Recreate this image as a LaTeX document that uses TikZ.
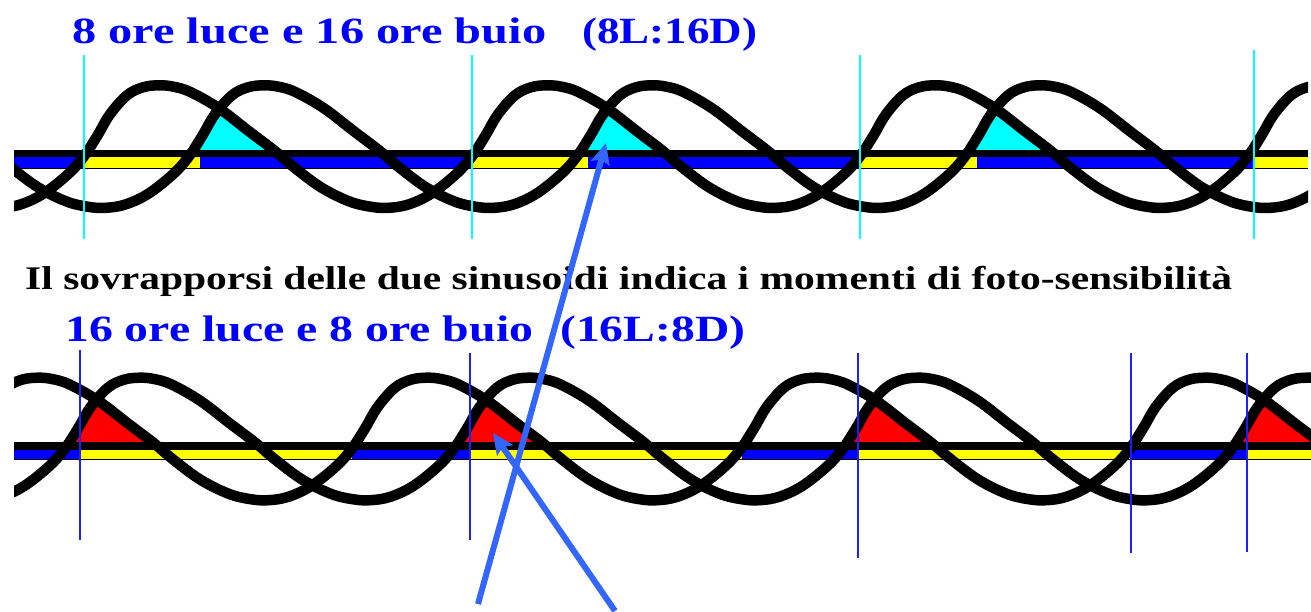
\documentclass[tikz,border=0pt]{standalone}
\usepackage{fontspec}
\setmainfont{Liberation Serif}
\usepackage{graphicx}
\usetikzlibrary{arrows.meta}
\definecolor{arrowblue}{RGB}{51,102,255}
\definecolor{pureblue}{RGB}{0,0,255}
\definecolor{lineblue}{RGB}{30,30,255}
\definecolor{pureyellow}{RGB}{255,255,0}
\definecolor{purecyan}{RGB}{0,255,255}
\definecolor{purered}{RGB}{255,0,0}

\def\wavepts{0/61,15/59.5,32/54,60/38,90/15,115/-4,135/-21,162/-41,190/-55,212/-60.5,230/-61.5,250/-58,273/-47,298/-27,313/-10,326/10,339/32,356/51,372/59}

\newcommand\mkwave[4]{%
  \gdef#1{}%
  \foreach \k in {-1,0,1,2,3,4}{%
    \foreach \dx/\dy in \wavepts{%
      \pgfmathsetmacro\px{#2+\k*#3+(\dx/388)*#3}%
      \pgfmathsetmacro\py{#4-\dy}%
      \xdef#1{#1 (\px,\py)}%
    }%
  }%
}
\newcommand\drawwave[2]{\edef\tmpw{\noexpand\draw[#1] plot[smooth,tension=0.6] coordinates {#2};}\tmpw}
\newcommand\lensfill[5]{%
  \begin{scope}
    \clip (14,#3) rectangle (1311,#4);
    \edef\tmpw{\noexpand\clip plot[smooth,tension=0.6] coordinates {#1} -- (2400,#4) -- (-600,#4) -- cycle;}\tmpw
    \edef\tmpw{\noexpand\fill[#5] plot[smooth,tension=0.6] coordinates {#2} -- (2400,#4) -- (-600,#4) -- cycle;}\tmpw
  \end{scope}}

\mkwave\waveTa{159}{388}{146.3}
\mkwave\waveTb{264}{388}{146.3}
\mkwave\waveBa{38}{389}{438.7}
\mkwave\waveBb{140}{389}{438.7}

\tikzset{
  wavestroke/.style={line width=10.5pt, black},
  cyanline/.style={line width=2pt, purecyan},
  blueline/.style={line width=2pt, lineblue},
  barline/.style={black},
  titletext/.style={font=\fontsize{37}{40}\selectfont\bfseries, text=pureblue, inner sep=0pt},
  bodytext/.style={font=\fontsize{33}{36}\selectfont\bfseries, text=black, inner sep=0pt},
  pointer/.style={arrowblue, line width=6pt, -{Stealth[length=21pt,width=19pt,inset=4pt]}}
}

\begin{document}
\begin{tikzpicture}[x=1pt,y=-1pt]
\useasboundingbox (0,0) rectangle (1311,612);
\fill[white] (0,0) rectangle (1311,612);

% ---------- top panel ----------
\foreach \a/\b/\c in {14/84/pureblue,84/200/pureyellow,200/472/pureblue,472/588/pureyellow,588/860/pureblue,860/977/pureyellow,977/1254/pureblue,1254/1308/pureyellow}
  \fill[\c] (\a,157.3) rectangle (\b,167.7);
\lensfill{\waveTa}{\waveTb}{60}{153.6}{purecyan}
\fill[barline] (14,150) rectangle (1308,157.3);
\fill[barline] (14,167.7) rectangle (1308,168.7);
\begin{scope}
  \clip (14,40) rectangle (1308,250);
  \drawwave{wavestroke}{\waveTa}
  \drawwave{wavestroke}{\waveTb}
\end{scope}
\foreach \x in {84,472,860}
  \draw[cyanline] (\x,55) -- (\x,239);
\draw[cyanline] (1254,50) -- (1254,239);

% ---------- bottom panel ----------
\foreach \a/\b/\c in {14/80/pureblue,80/352/pureyellow,352/470/pureblue,470/742/pureyellow,742/858/pureblue,858/1130/pureyellow,1130/1247/pureblue,1247/1311/pureyellow}
  \fill[\c] (\a,450) rectangle (\b,459.3);
\lensfill{\waveBa}{\waveBb}{350}{445.8}{purered}
\fill[barline] (14,441.7) rectangle (1311,450);
\fill[barline] (14,459.3) rectangle (1311,460.3);
\begin{scope}
  \clip (14,340) rectangle (1311,540);
  \drawwave{wavestroke}{\waveBa}
  \drawwave{wavestroke}{\waveBb}
\end{scope}
\draw[blueline] (80,350) -- (80,540);
\draw[blueline] (470,353) -- (470,540);
\draw[blueline] (858,353) -- (858,558);
\draw[blueline] (1131,353) -- (1131,553);
\draw[blueline] (1247,353) -- (1247,552);

% ---------- texts ----------
\node[titletext, anchor=base west] (t1a) at (72,44) {\resizebox{474pt}{\height}{8 ore luce e 16 ore buio}};
\node[titletext, anchor=base west] (t1b) at (582,44) {\resizebox{175pt}{\height}{(8L:16D)}};
\node[bodytext, anchor=base west] (t2) at (25,290) {\resizebox{1207pt}{\height}{Il sovrapporsi delle due sinusoidi indica i momenti di foto-sensibilità}};
\node[titletext, anchor=base west] (t3a) at (65,341) {\resizebox{468pt}{\height}{16 ore luce e 8 ore buio}};
\node[titletext, anchor=base west] (t3b) at (560,341) {\resizebox{185pt}{\height}{(16L:8D)}};

% ---------- arrows ----------
\coordinate (a1s) at (478,604);
\coordinate (a1e) at (606,143);
\coordinate (a2s) at (615,611);
\coordinate (a2e) at (493,433);
\draw[pointer] (a1s) -- (a1e);
\draw[pointer] (a2s) -- (a2e);
\end{tikzpicture}
\end{document}
